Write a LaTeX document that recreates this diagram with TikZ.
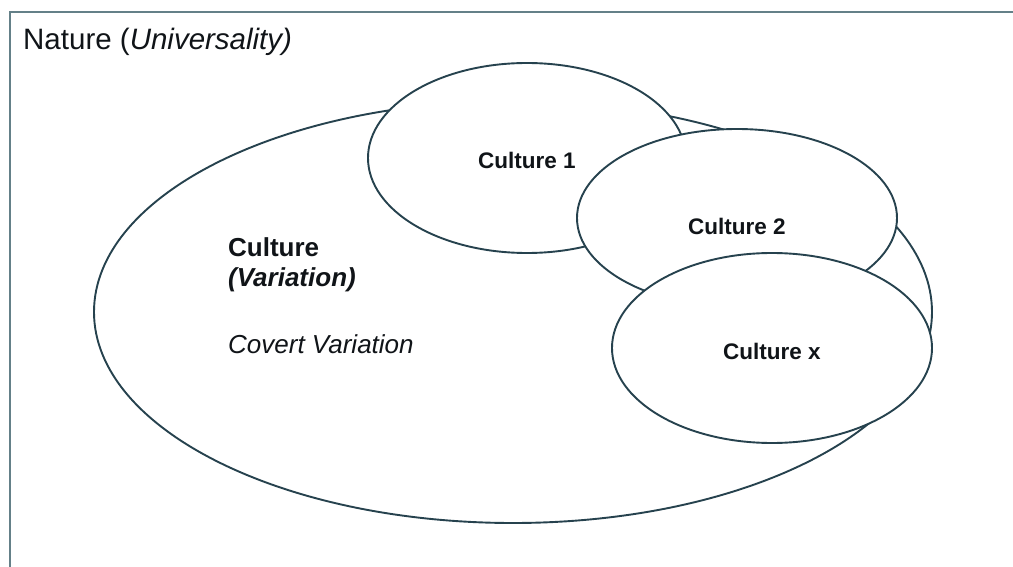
\documentclass[tikz,border=0pt]{standalone}
\usepackage{fontspec}
\setmainfont{Liberation Sans}
\usetikzlibrary{shapes.geometric}
\definecolor{inkline}{RGB}{38,66,78}
\definecolor{frameline}{RGB}{100,128,136}
\definecolor{inktext}{RGB}{16,20,24}

\begin{document}
\begin{tikzpicture}[x=1pt, y=-1pt,
    blob/.style={ellipse, draw=inkline, line width=1.9pt, fill=white, inner sep=0pt},
    tag/.style={text=inktext, font=\fontsize{22.5}{26}\selectfont\bfseries, inner sep=0pt, anchor=base},
    big/.style={text=inktext, inner sep=0pt, anchor=base west}]
\useasboundingbox (0,0) rectangle (1013,567);
\draw[frameline, line width=2.6pt] (10,12) rectangle (1030,590);
\node[big, font=\fontsize{29.5}{34}\selectfont] (nature) at (23,50) {Nature (\textit{Universality)}};

\node[blob, minimum width=838pt, minimum height=422pt] (culture) at (513,312) {};
\node[blob, minimum width=318pt, minimum height=190pt] (c1) at (527,158) {};
\node[blob, minimum width=320pt, minimum height=178pt] (c2) at (737,218) {};
\node[blob, minimum width=320pt, minimum height=190pt] (cx) at (772,348) {};

\node[tag] (t1) at ([yshift=-11pt]c1.center) {Culture 1};
\node[tag] (t2) at ([yshift=-16pt]c2.center) {Culture 2};
\node[tag] (tx) at ([yshift=-11pt]cx.center) {Culture x};

\node[big, font=\fontsize{26}{30}\selectfont\bfseries] (cult) at (228,256) {Culture};
\node[big, font=\fontsize{26}{30}\selectfont\bfseries\itshape] (var) at ([yshift=-30pt]cult.base west) {(Variation)};
\node[big, font=\fontsize{26}{30}\selectfont\itshape] (covert) at (228,353) {Covert Variation};
\end{tikzpicture}
\end{document}
